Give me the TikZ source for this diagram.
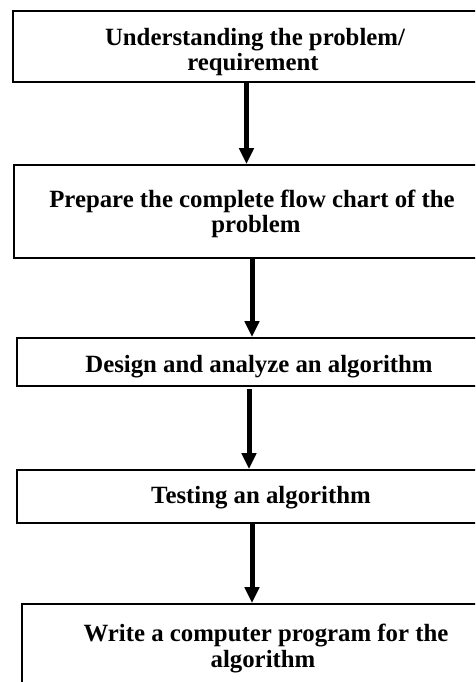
\documentclass[tikz,border=0pt]{standalone}
\usepackage{fontspec}
\setmainfont{Liberation Serif}
\usetikzlibrary{arrows.meta,fit}
\begin{document}
\begin{tikzpicture}[x=0.75pt,y=-0.75pt,
  box/.style={draw=black,line width=1.2pt,inner sep=0pt,rectangle,fill=white},
  lbl/.style={anchor=base,inner sep=0pt,font=\fontsize{18.6pt}{19pt}\selectfont\bfseries},
  arr/.style={line width=3.75pt,-{Triangle[length=12pt,width=10.5pt]}}]
\useasboundingbox (0,0) rectangle (475,682);
\clip (0,0) rectangle (475,682);
\fill[white] (0,0) rectangle (475,682);
% boxes
\node[box,fit={(13,11) (520,82)}] (b1) {};
\node[box,fit={(14,165) (520,258)}] (b2) {};
\node[box,fit={(17,338) (520,386)}] (b3) {};
\node[box,fit={(17,470) (520,523)}] (b4) {};
\node[box,fit={(22,604) (520,700)}] (b5) {};
% texts
\node[lbl] (t1a) at (255,45) {Understanding the problem/};
\node[lbl] (t1b) at (253,70) {requirement};
\node[lbl] (t2a) at (252,207) {Prepare the complete flow chart of the};
\node[lbl] (t2b) at (256,232) {problem};
\node[lbl] (t3) at (259,372) {Design and analyze an algorithm};
\node[lbl] (t4) at (261,503) {Testing an algorithm};
\node[lbl] (t5a) at (266,641) {Write a computer program for the};
\node[lbl] (t5b) at (263,667) {algorithm};
% arrow columns
\coordinate (a1) at (246.5,0);
\coordinate (a2) at (252,0);
\coordinate (a3) at (249,0);
\coordinate (a4) at (252,0);
\draw[arr] (b1.south -| a1) -- (b2.north -| a1);
\draw[arr] (b2.south -| a2) -- (b3.north -| a2);
\draw[arr] ([yshift=-2pt]b3.south -| a3) -- (b4.north -| a3);
\draw[arr] (b4.south -| a4) -- (b5.north -| a4);
\end{tikzpicture}
\end{document}
